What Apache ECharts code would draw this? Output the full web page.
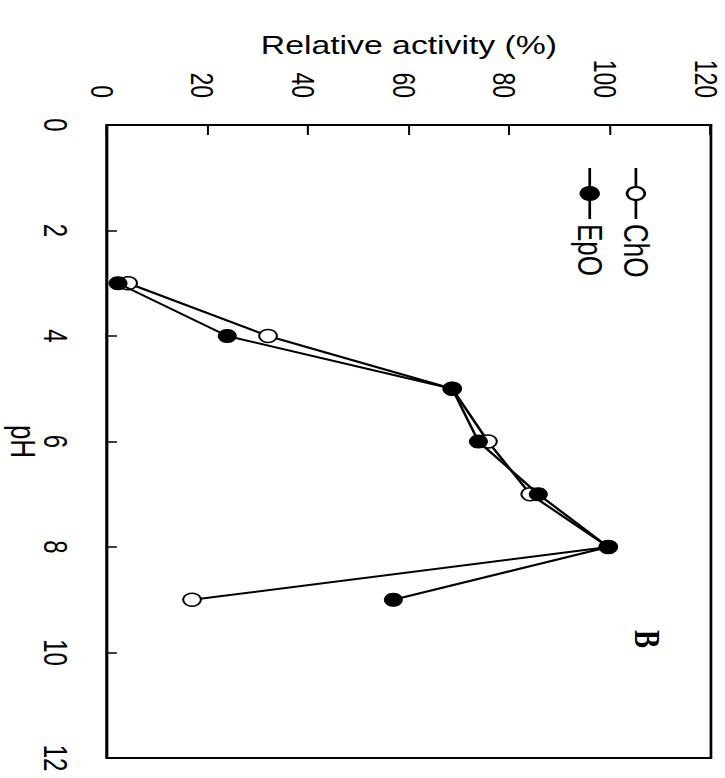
<!DOCTYPE html>
<html>
<head>
<meta charset="utf-8">
<script src="https://cdn.jsdelivr.net/npm/echarts@6/dist/echarts.min.js"></script>
<style>
  html, body { margin: 0; padding: 0; background: #fff; width: 725px; height: 778px; overflow: hidden; }
  #wrap { position: absolute; left: 0; top: 0; width: 778px; height: 537px;
          transform-origin: 0 0; transform: translateX(725px) rotate(90deg) scaleY(1.35); }
</style>
</head>
<body>
<div id="wrap"></div>
<script>
// Data
const phValues = [3, 4, 5, 6, 7, 8, 9];
const choActivity = [4.2, 32, 68.6, 75.7, 84.1, 99.6, 16.9];
const epoActivity = [2.2, 23.9, 68.6, 73.8, 85.7, 99.6, 56.9];
const seriesNames = ['ChO', 'EpO'];
const panelLabel = 'B';

const FONT = "'Liberation Sans', Arial, Helvetica, sans-serif";

function pairs(xs, ys) { return xs.map((x, i) => [x, ys[i]]); }

const chart = echarts.init(document.getElementById('wrap'), null, { renderer: 'svg' });
chart.setOption({
  animation: false,
  backgroundColor: '#fff',
  grid: { left: 125, right: 20, top: 10.4, bottom: 79.2, show: true, borderColor: '#000', borderWidth: 2,
          containLabel: false, outerBoundsMode: 'none' },
  legend: {
    orient: 'vertical', left: 167, top: 53, padding: 0, itemWidth: 51, itemHeight: 16.25, itemGap: 8.2,
    data: seriesNames,
    textStyle: { fontFamily: FONT, fontSize: 26, color: '#000' }
  },
  xAxis: {
    type: 'value', min: 0, max: 12, interval: 2, position: 'bottom',
    name: 'pH', nameLocation: 'middle', nameGap: 49, nameMoveOverlap: false,
    nameTextStyle: { fontFamily: FONT, fontSize: 26, color: '#000' },
    axisLine: { show: true, onZero: false, lineStyle: { color: '#000', width: 2 } },
    axisTick: { show: true, inside: true, length: 7.4, lineStyle: { color: '#000', width: 1.5 } },
    axisLabel: { fontFamily: FONT, fontSize: 24, color: '#000', margin: 26, showMinLabel: true, showMaxLabel: true },
    splitLine: { show: false }
  },
  yAxis: {
    type: 'value', min: 0, max: 120, interval: 20, position: 'left',
    name: 'Relative activity (%)', nameLocation: 'middle', nameRotate: 90, nameGap: 67, nameMoveOverlap: false,
    nameTextStyle: { fontFamily: FONT, fontSize: 25, color: '#000' },
    axisLine: { show: true, onZero: false, lineStyle: { color: '#000', width: 2 } },
    axisTick: { show: true, inside: true, length: 10, lineStyle: { color: '#000', width: 1.5 } },
    axisLabel: { fontFamily: FONT, fontSize: 23, color: '#000', margin: 27, verticalAlign: 'top', lineHeight: 8, showMinLabel: true, showMaxLabel: true },
    splitLine: { show: false }
  },
  graphic: [{
    type: 'text', left: 630, top: 44,
    style: { text: panelLabel, font: "bold 27px 'Liberation Serif', 'Times New Roman', serif", fill: '#000' }
  }],
  series: [
    {
      name: seriesNames[0], type: 'line', data: pairs(phValues, choActivity),
      symbol: 'circle', symbolSize: 13, z: 2,
      lineStyle: { color: '#000', width: 2 },
      itemStyle: { color: '#fff', borderColor: '#000', borderWidth: 1.5 }
    },
    {
      name: seriesNames[1], type: 'line', data: pairs(phValues, epoActivity),
      symbol: 'circle', symbolSize: 13, z: 3,
      lineStyle: { color: '#000', width: 2 },
      itemStyle: { color: '#000', borderColor: '#000', borderWidth: 1 }
    }
  ]
});
</script>
</body>
</html>
